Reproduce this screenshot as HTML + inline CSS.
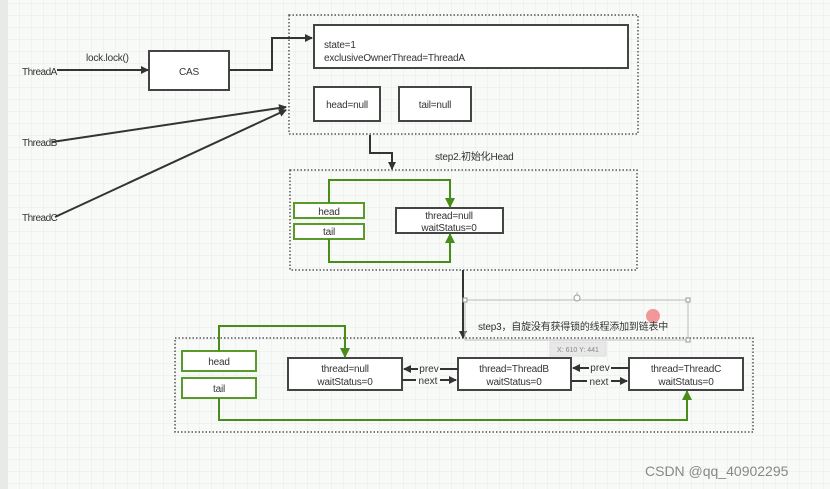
<!DOCTYPE html>
<html><head><meta charset="utf-8"><style>
html,body{margin:0;padding:0;background:#f8faf8;}
svg{display:block;font-family:"Liberation Sans","Noto Sans CJK SC",sans-serif;}
</style></head><body>
<svg width="830" height="489" viewBox="0 0 830 489" xmlns="http://www.w3.org/2000/svg">
<defs>
<pattern id="g" width="12" height="12" patternUnits="userSpaceOnUse" x="8" y="4">
<path d="M12 0V12M0 12H12" fill="none" stroke="#e8ebe8" stroke-width="1"/>
</pattern>
<marker id="ab" markerWidth="8" markerHeight="8" refX="7" refY="4" orient="auto" markerUnits="userSpaceOnUse"><path d="M0,0L8,4L0,8z" fill="#333"/></marker>
<marker id="ag" markerWidth="10" markerHeight="10" refX="9" refY="5" orient="auto" markerUnits="userSpaceOnUse"><path d="M0,0L10,5L0,10z" fill="#4a8c1c"/></marker>
</defs>
<rect width="830" height="489" fill="#f8faf8"/>
<rect width="830" height="489" fill="url(#g)"/>
<rect x="0" y="0" width="8" height="489" fill="#e8eae8"/>

<g fill="none" stroke="#555" stroke-width="1.5" stroke-dasharray="1.5,2">
<rect x="289" y="15" width="349" height="119"/>
<rect x="290" y="170" width="347" height="100"/>
<rect x="175" y="338" width="578" height="94"/>
</g>

<g fill="#fff" stroke="#444" stroke-width="2">
<rect x="314" y="25" width="314" height="43"/>
<rect x="314" y="87" width="66" height="34"/>
<rect x="399" y="87" width="72" height="34"/>
<rect x="149" y="51" width="80" height="39"/>
<rect x="396" y="208" width="107" height="25"/>
<rect x="288" y="358" width="114" height="32"/>
<rect x="458" y="358" width="113" height="32"/>
<rect x="629" y="358" width="114" height="32"/>
</g>
<g fill="#fff" stroke="#5a9a2a" stroke-width="2">
<rect x="294" y="203" width="70" height="15"/>
<rect x="294" y="224" width="70" height="15"/>
<rect x="182" y="351" width="74" height="20"/>
<rect x="182" y="378" width="74" height="20"/>
</g>

<g fill="none" stroke="#333" stroke-width="2">
<path d="M57 70H148" marker-end="url(#ab)"/>
<path d="M229 70H272V38H312" marker-end="url(#ab)"/>
<path d="M52 142L286 107" marker-end="url(#ab)"/>
<path d="M55 217L286 110" marker-end="url(#ab)"/>
<path d="M370 135V153H392V169" marker-end="url(#ab)"/>
<path d="M463 270V338" marker-end="url(#ab)"/>
<path d="M458 369H404" marker-end="url(#ab)"/>
<path d="M402 380H456" marker-end="url(#ab)"/>
<path d="M629 368H573" marker-end="url(#ab)"/>
<path d="M571 381H627" marker-end="url(#ab)"/>
</g>
<g fill="none" stroke="#4a8c1c" stroke-width="2">
<path d="M329 203V180H450V207" marker-end="url(#ag)"/>
<path d="M329 239V262H450V234" marker-end="url(#ag)"/>
<path d="M219 351V326H345V357" marker-end="url(#ag)"/>
<path d="M219 398V420H687V391" marker-end="url(#ag)"/>
</g>

<rect x="465" y="300" width="223" height="40" fill="none" stroke="#bbb" stroke-width="1"/>
<line x1="577" y1="300" x2="577" y2="292" stroke="#bbb"/>
<circle cx="577" cy="298" r="3" fill="#fff" stroke="#999"/>
<g fill="#fff" stroke="#999"><rect x="463" y="298" width="4" height="4"/><rect x="686" y="298" width="4" height="4"/><rect x="686" y="338" width="4" height="4"/></g>
<circle cx="653" cy="316" r="7" fill="#f08080" opacity="0.8"/>
<rect x="550" y="342" width="56" height="14" fill="#e8e8e8" stroke="#ddd"/>
<text x="578" y="352" font-size="7" fill="#888" text-anchor="middle">X: 610  Y: 441</text>

<g font-size="10" fill="#333" letter-spacing="-0.2">
<text x="22" y="75" letter-spacing="-0.5">ThreadA</text>
<text x="22" y="146" letter-spacing="-0.5">ThreadB</text>
<text x="22" y="221" letter-spacing="-0.5">ThreadC</text>
<text x="86" y="61">lock.lock()</text>
<text x="189" y="75" text-anchor="middle">CAS</text>
<text x="324" y="48">state=1</text>
<text x="324" y="61">exclusiveOwnerThread=ThreadA</text>
<text x="347" y="108" text-anchor="middle">head=null</text>
<text x="435" y="108" text-anchor="middle">tail=null</text>
<text x="435" y="160">step2.初始化Head</text>
<text x="329" y="215" text-anchor="middle">head</text>
<text x="329" y="235" text-anchor="middle">tail</text>
<text x="449" y="219" text-anchor="middle">thread=null</text>
<text x="449" y="231" text-anchor="middle">waitStatus=0</text>
<text x="478" y="330">step3，自旋没有获得锁的线程添加到链表中</text>
<text x="219" y="365" text-anchor="middle">head</text>
<text x="219" y="392" text-anchor="middle">tail</text>
<text x="345" y="372" text-anchor="middle">thread=null</text>
<text x="345" y="385" text-anchor="middle">waitStatus=0</text>
<text x="514" y="372" text-anchor="middle">thread=ThreadB</text>
<text x="514" y="385" text-anchor="middle">waitStatus=0</text>
<text x="686" y="372" text-anchor="middle">thread=ThreadC</text>
<text x="686" y="385" text-anchor="middle">waitStatus=0</text>
</g>
<g font-size="10" fill="#333">
<rect x="418" y="363" width="22" height="10" fill="#f8faf8"/>
<text x="429" y="372" text-anchor="middle">prev</text>
<rect x="416" y="375" width="24" height="10" fill="#f8faf8"/>
<text x="428" y="384" text-anchor="middle">next</text>
<rect x="589" y="362" width="22" height="10" fill="#f8faf8"/>
<text x="600" y="371" text-anchor="middle">prev</text>
<rect x="587" y="376" width="24" height="10" fill="#f8faf8"/>
<text x="599" y="385" text-anchor="middle">next</text>
</g>
<text x="645" y="476" font-size="14" fill="#888">CSDN @qq_40902295</text>
</svg>
</body></html>
